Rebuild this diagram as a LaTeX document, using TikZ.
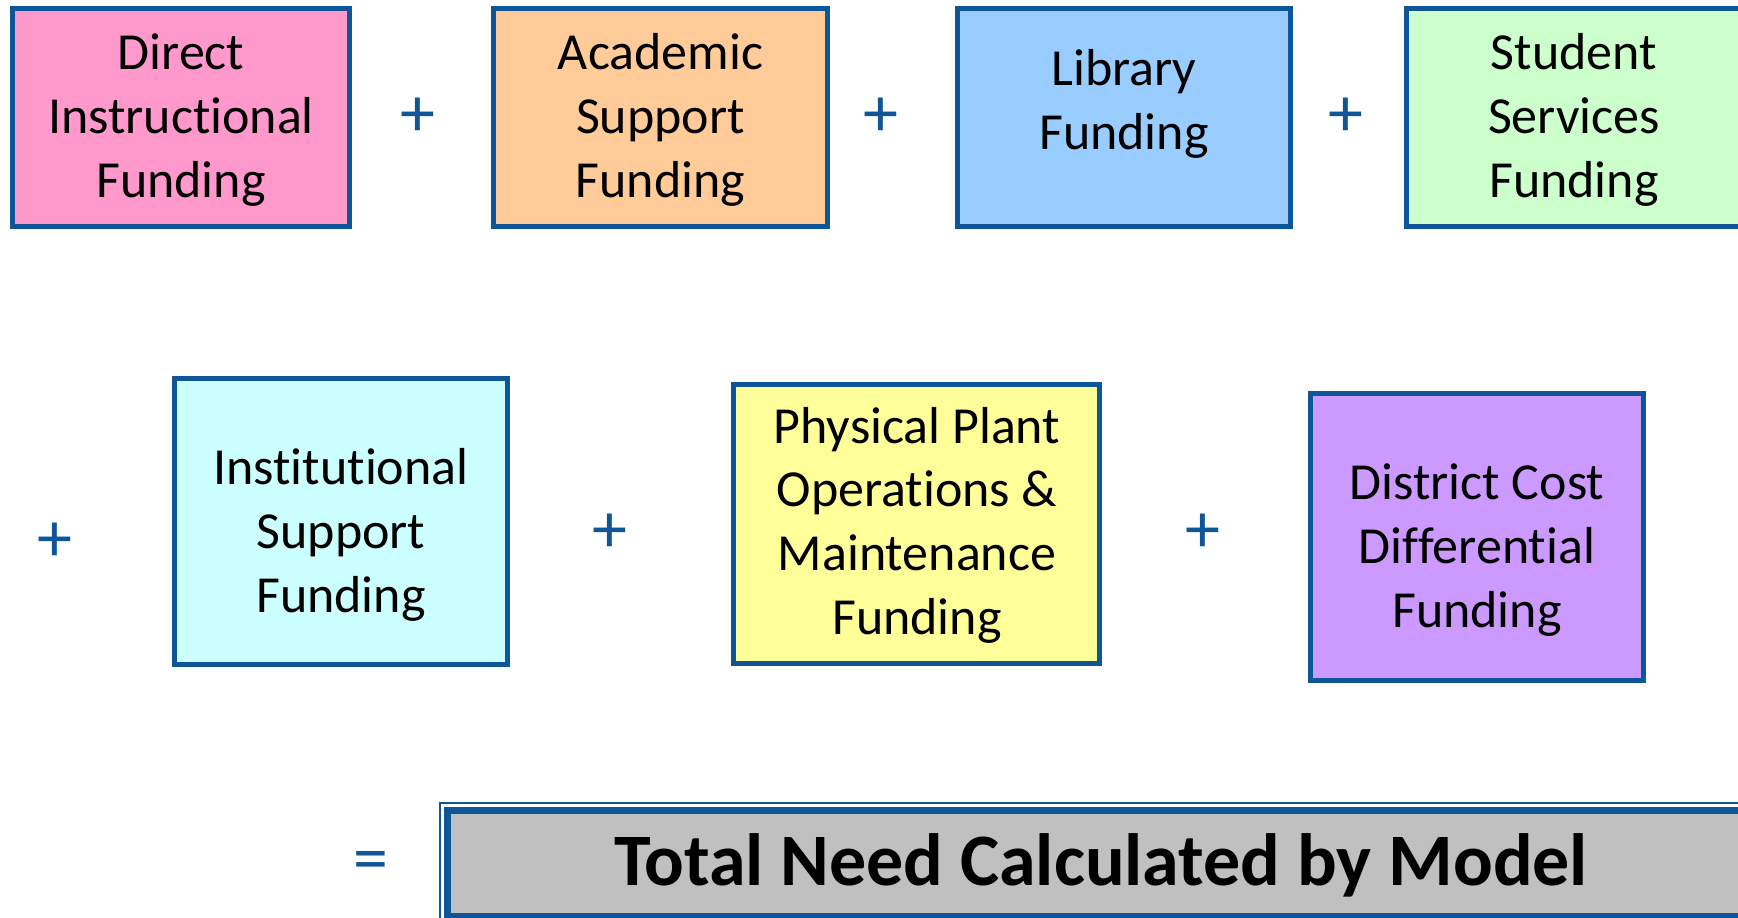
\documentclass[tikz,border=0pt]{standalone}
\usepackage{fontspec}
\setmainfont{Carlito}[Ligatures=NoCommon]
\definecolor{bordblue}{RGB}{14,86,152}
\definecolor{cpink}{RGB}{255,153,204}
\definecolor{corange}{RGB}{255,204,153}
\definecolor{clblue}{RGB}{153,204,255}
\definecolor{cgreen}{RGB}{204,255,204}
\definecolor{ccyan}{RGB}{204,255,255}
\definecolor{cyellow}{RGB}{255,255,153}
\definecolor{cpurple}{RGB}{204,153,255}
\definecolor{cgrey}{RGB}{192,192,192}
\begin{document}
\begin{tikzpicture}[x=1pt,y=-1pt,
  fundbox/.style={draw=bordblue, line width=5pt, inner sep=0pt, rectangle},
  fundtext/.style={align=center, inner sep=0pt, font=\fontsize{52}{63.7}\selectfont},
  opsign/.style={text=bordblue, inner sep=0pt, font=\fontsize{70}{80}\selectfont}]
\useasboundingbox (0,0) rectangle (1738,918);
% row 1
\node[fundbox, fill=cpink, minimum width=337pt, minimum height=218pt] (b1) at (181,117.5) {};
\node[fundtext] (t1) at (181,120) {Direct\\Instructional\\Funding};
\node[opsign] (p1) at (418,117) {+};
\node[fundbox, fill=corange, minimum width=334pt, minimum height=218pt] (b2) at (660.5,117.5) {};
\node[fundtext] (t2) at (660.5,120) {Academic\\Support\\Funding};
\node[opsign] (p2) at (881,117) {+};
\node[fundbox, fill=clblue, minimum width=333pt, minimum height=218pt] (b3) at (1124,117.5) {};
\node[fundtext] (t3) at (1124,104) {Library\\Funding};
\node[opsign] (p3) at (1346,117) {+};
\node[fundbox, fill=cgreen, minimum width=334pt, minimum height=218pt] (b4) at (1573,117.5) {};
\node[fundtext] (t4) at (1574,120) {Student\\Services\\Funding};
% row 2
\node[opsign] (p4) at (55,542) {+};
\node[fundbox, fill=ccyan, minimum width=333pt, minimum height=286pt] (b5) at (341,521.5) {};
\node[fundtext] (t5) at (341,535) {Institutional\\Support\\Funding};
\node[opsign] (p5) at (610,533) {+};
\node[fundbox, fill=cyellow, minimum width=366pt, minimum height=279pt] (b6) at (916.5,524) {};
\node[fundtext] (t6) at (917,525) {Physical Plant\\Operations \&\\Maintenance\\Funding};
\node[opsign] (p6) at (1203,533) {+};
\node[fundbox, fill=cpurple, minimum width=333pt, minimum height=287pt] (b7) at (1477,537) {};
\node[fundtext] (t7) at (1477,550) {District Cost\\Differential\\Funding};
% bottom
\node[opsign] (eq) at (371,866) {=};
\coordinate (oa) at (440,803);
\coordinate (ob) at (1790,960);
\draw[bordblue, line width=2pt] (oa) rectangle (ob);
\coordinate (ia) at (447.5,810.5);
\coordinate (ib) at (1780,916.5);
\draw[bordblue, line width=7pt, fill=cgrey] (ia) rectangle (ib);
\node[inner sep=0pt, font=\fontsize{74}{88}\selectfont\bfseries] (tot) at (1101,865) {Total Need Calculated by Model};
\end{tikzpicture}
\end{document}
